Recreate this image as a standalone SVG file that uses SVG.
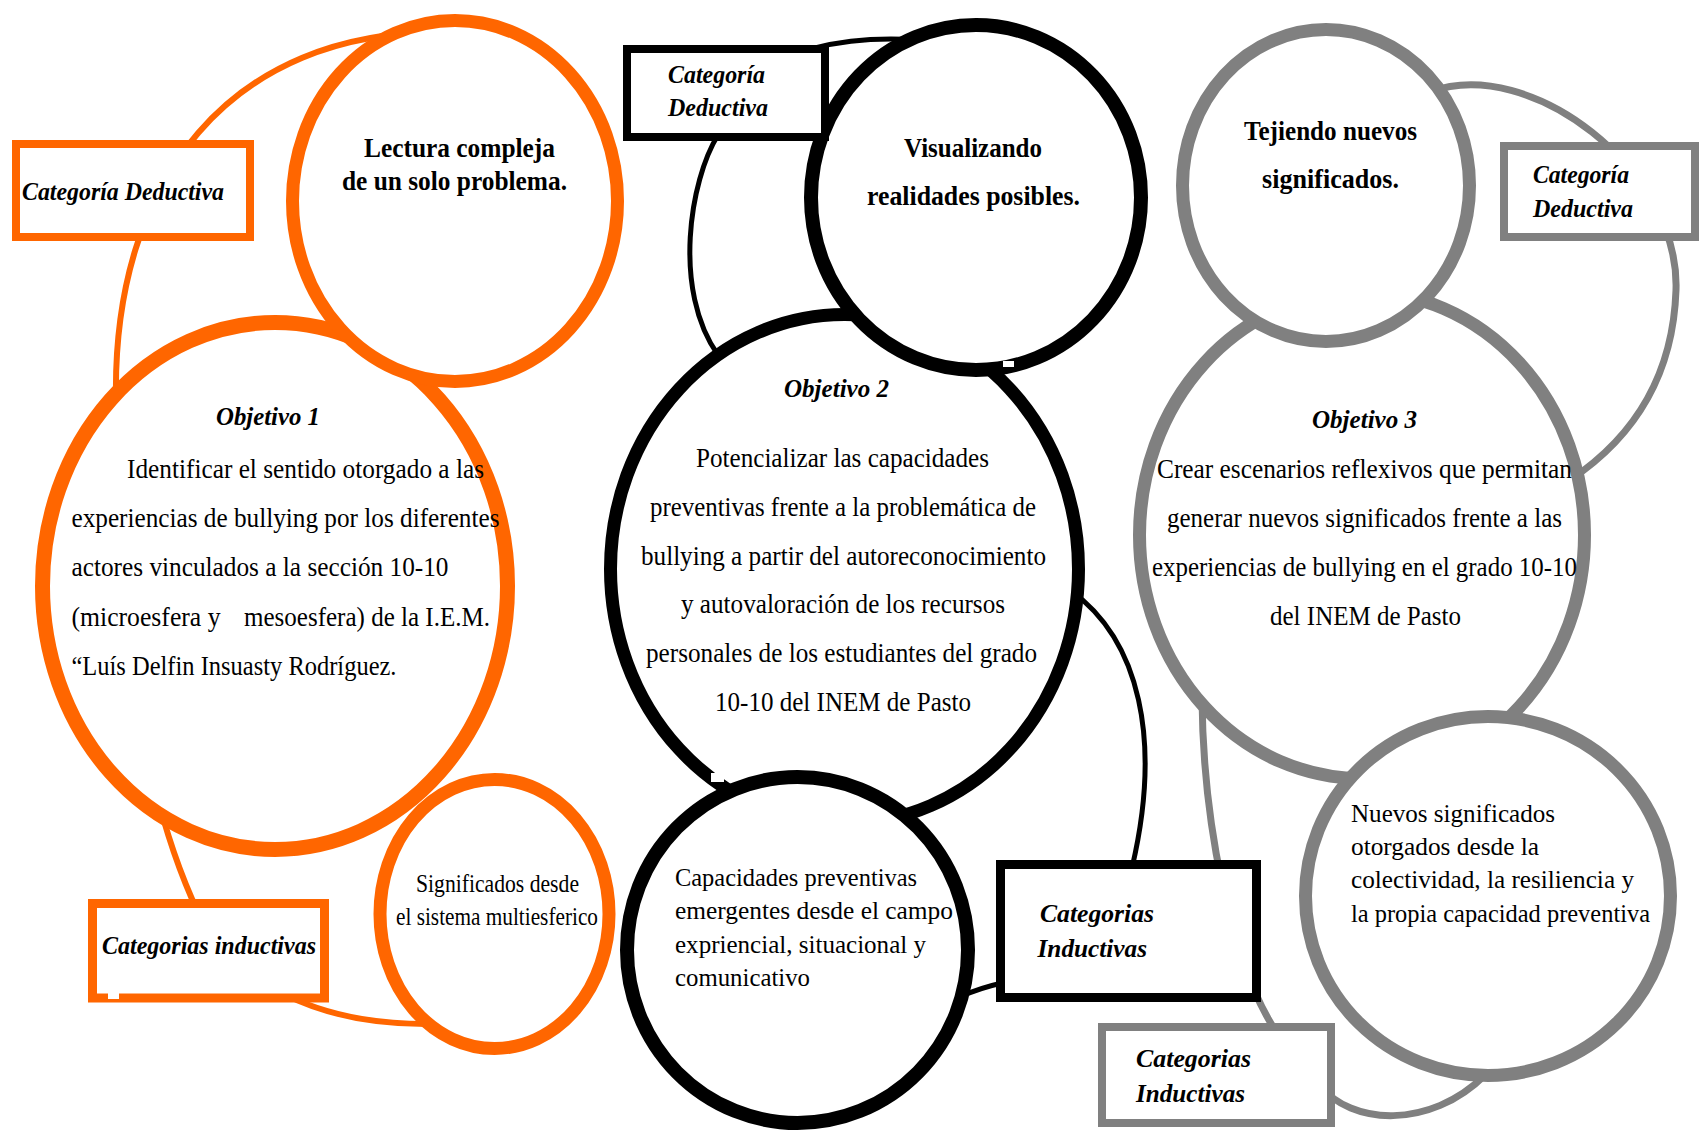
<svg xmlns="http://www.w3.org/2000/svg" width="1699" height="1131" viewBox="0 0 1699 1131">
<style>
.o{fill:#fff;stroke:#FF6600}
.b{fill:#fff;stroke:#000}
.g{fill:#fff;stroke:#808080}
.co{fill:none;stroke:#FF6600;stroke-width:6}
.cb{fill:none;stroke:#000;stroke-width:5}
.cg{fill:none;stroke:#808080;stroke-width:7}
text{font-family:"Liberation Serif","Times New Roman",serif;fill:#000}
.r{font-size:27px}
.s{font-size:25px}
.bd{font-size:27px;font-weight:bold}
.bi{font-size:26px;font-weight:bold;font-style:italic}
.n{fill:#fff;stroke:none}
</style>
<rect width="1699" height="1131" fill="#fff"/>
<g id="connectors">
<path class="co" d="M 445 32 C 230 30, 112 180, 116 400 C 114 600, 140 780, 192 899 C 230 985, 320 1025, 430 1024"/>
<path class="cb" d="M 815 48 Q 860 36 920 40"/>
<path class="cb" d="M 718 135 C 690 180, 672 290, 718 355"/>
<path class="cb" d="M 1070 590 C 1140 640, 1162 740, 1132 868"/>
<path class="cb" d="M 962 996 Q 980 988 1002 983"/>
<path class="cg" d="M 1430 92 C 1530 55, 1680 170, 1676 290 C 1673 380, 1630 440, 1570 480"/>
<path class="cg" d="M 1202 698 C 1203 820, 1230 960, 1275 1030"/>
<path class="cg" d="M 1320 1085 C 1350 1125, 1430 1130, 1485 1075"/>
</g>
<g id="objetivo1">
<ellipse class="o" cx="275" cy="586" rx="232.5" ry="263.5" stroke-width="15"/>
<text class="bi" x="216" y="425" textLength="104" lengthAdjust="spacingAndGlyphs">Objetivo 1</text>
<text class="r" x="127" y="478" textLength="357" lengthAdjust="spacingAndGlyphs">Identificar el sentido otorgado a las</text>
<text class="r" x="71.5" y="527" textLength="428" lengthAdjust="spacingAndGlyphs">experiencias de bullying por los diferentes</text>
<text class="r" x="71.5" y="576" textLength="377" lengthAdjust="spacingAndGlyphs">actores vinculados a la sección 10-10</text>
<text class="r" x="71.5" y="626" textLength="149" lengthAdjust="spacingAndGlyphs">(microesfera y</text>
<text class="r" x="244" y="626" textLength="246" lengthAdjust="spacingAndGlyphs">mesoesfera) de la I.E.M.</text>
<text class="r" x="71.5" y="675" textLength="325" lengthAdjust="spacingAndGlyphs">“Luís Delfin Insuasty Rodríguez.</text>
</g>
<g id="lectura">
<ellipse class="o" cx="455" cy="201" rx="162.5" ry="180.5" stroke-width="13"/>
<text class="bd" x="364" y="157" textLength="191" lengthAdjust="spacingAndGlyphs">Lectura compleja</text>
<text class="bd" x="342" y="190" textLength="225" lengthAdjust="spacingAndGlyphs">de un solo problema.</text>
</g>
<g id="significados">
<ellipse class="o" cx="494.5" cy="914" rx="114.5" ry="134.5" stroke-width="13"/>
<text class="s" x="416" y="892" textLength="163" lengthAdjust="spacingAndGlyphs">Significados desde</text>
<text class="s" x="396" y="925" textLength="202" lengthAdjust="spacingAndGlyphs">el sistema multiesferico</text>
</g>
<g id="deductiva1">
<rect class="o" x="16" y="144" width="234" height="93" stroke-width="8"/>
<text class="bi" x="22" y="200" textLength="202" lengthAdjust="spacingAndGlyphs">Categoría Deductiva</text>
</g>
<g id="inductivas1">
<rect class="o" x="92.5" y="903.5" width="232" height="94.5" stroke-width="9"/>
<rect class="n" x="108" y="990" width="11" height="9"/>
<text class="bi" x="102" y="954" textLength="214" lengthAdjust="spacingAndGlyphs">Categorias inductivas</text>
</g>
<g id="objetivo2">
<ellipse class="b" cx="844.5" cy="569" rx="234" ry="254.5" stroke-width="13"/>
<text class="bi" x="784" y="397" textLength="105" lengthAdjust="spacingAndGlyphs">Objetivo 2</text>
<text class="r" x="696" y="467" textLength="293" lengthAdjust="spacingAndGlyphs">Potencializar las capacidades</text>
<text class="r" x="650" y="516" textLength="386" lengthAdjust="spacingAndGlyphs">preventivas frente a la problemática de</text>
<text class="r" x="641" y="565" textLength="405" lengthAdjust="spacingAndGlyphs">bullying a partir del autoreconocimiento</text>
<text class="r" x="681" y="613" textLength="324" lengthAdjust="spacingAndGlyphs">y autovaloración de los recursos</text>
<text class="r" x="646" y="662" textLength="391" lengthAdjust="spacingAndGlyphs">personales de los estudiantes del grado</text>
<text class="r" x="715" y="711" textLength="256" lengthAdjust="spacingAndGlyphs">10-10 del INEM de Pasto</text>
</g>
<g id="visualizando">
<ellipse class="b" cx="976" cy="197.5" rx="165" ry="172.5" stroke-width="14"/>
<rect class="n" x="1003" y="361" width="11" height="6"/>
<text class="bd" x="904" y="157" textLength="138" lengthAdjust="spacingAndGlyphs">Visualizando</text>
<text class="bd" x="867" y="205" textLength="213" lengthAdjust="spacingAndGlyphs">realidades posibles.</text>
</g>
<g id="capacidades">
<ellipse class="b" cx="797.5" cy="950" rx="170.5" ry="173" stroke-width="14"/>
<rect class="n" x="711" y="773" width="13" height="9"/>
<text class="s" x="675" y="886" textLength="242" lengthAdjust="spacingAndGlyphs">Capacidades preventivas</text>
<text class="s" x="675" y="919" textLength="278" lengthAdjust="spacingAndGlyphs">emergentes desde el campo</text>
<text class="s" x="675" y="953" textLength="251" lengthAdjust="spacingAndGlyphs">expriencial, situacional y</text>
<text class="s" x="675" y="986" textLength="135" lengthAdjust="spacingAndGlyphs">comunicativo</text>
</g>
<g id="deductiva2">
<rect class="b" x="627" y="49" width="198" height="88" stroke-width="8"/>
<text class="bi" x="668" y="83" textLength="97" lengthAdjust="spacingAndGlyphs">Categoría</text>
<text class="bi" x="668" y="116" textLength="100" lengthAdjust="spacingAndGlyphs">Deductiva</text>
</g>
<g id="inductivas2">
<rect class="b" x="1000.5" y="864.5" width="256" height="133" stroke-width="9"/>
<text class="bi" x="1040" y="922" textLength="114" lengthAdjust="spacingAndGlyphs">Categorias</text>
<text class="bi" x="1037.5" y="957" textLength="109.5" lengthAdjust="spacingAndGlyphs">Inductivas</text>
</g>
<g id="objetivo3">
<ellipse class="g" cx="1362" cy="535" rx="222.5" ry="243.5" stroke-width="13"/>
<text class="bi" x="1312" y="428" textLength="105" lengthAdjust="spacingAndGlyphs">Objetivo 3</text>
<text class="r" x="1157" y="478" textLength="415" lengthAdjust="spacingAndGlyphs">Crear escenarios reflexivos que permitan</text>
<text class="r" x="1167" y="527" textLength="395" lengthAdjust="spacingAndGlyphs">generar nuevos significados frente a las</text>
<text class="r" x="1152" y="576" textLength="425" lengthAdjust="spacingAndGlyphs">experiencias de bullying en el grado 10-10</text>
<text class="r" x="1270" y="625" textLength="191" lengthAdjust="spacingAndGlyphs">del INEM de Pasto</text>
</g>
<g id="tejiendo">
<ellipse class="g" cx="1326" cy="185.5" rx="143.5" ry="156" stroke-width="13"/>
<text class="bd" x="1244" y="140" textLength="173" lengthAdjust="spacingAndGlyphs">Tejiendo nuevos</text>
<text class="bd" x="1262" y="188" textLength="137" lengthAdjust="spacingAndGlyphs">significados.</text>
</g>
<g id="nuevos">
<ellipse class="g" cx="1488" cy="896" rx="182.5" ry="179.5" stroke-width="13"/>
<text class="s" x="1351" y="822" textLength="204" lengthAdjust="spacingAndGlyphs">Nuevos significados</text>
<text class="s" x="1351" y="855" textLength="188" lengthAdjust="spacingAndGlyphs">otorgados desde la</text>
<text class="s" x="1351" y="888" textLength="283" lengthAdjust="spacingAndGlyphs">colectividad, la resiliencia y</text>
<text class="s" x="1351" y="922" textLength="299" lengthAdjust="spacingAndGlyphs">la propia capacidad preventiva</text>
</g>
<g id="deductiva3">
<rect class="g" x="1504" y="146" width="191" height="91" stroke-width="8"/>
<text class="bi" x="1533" y="183" textLength="96" lengthAdjust="spacingAndGlyphs">Categoría</text>
<text class="bi" x="1533" y="217" textLength="100" lengthAdjust="spacingAndGlyphs">Deductiva</text>
</g>
<g id="inductivas3">
<rect class="g" x="1102" y="1027" width="229" height="96" stroke-width="8"/>
<text class="bi" x="1136" y="1067" textLength="115" lengthAdjust="spacingAndGlyphs">Categorias</text>
<text class="bi" x="1136" y="1102" textLength="109" lengthAdjust="spacingAndGlyphs">Inductivas</text>
</g>
</svg>
